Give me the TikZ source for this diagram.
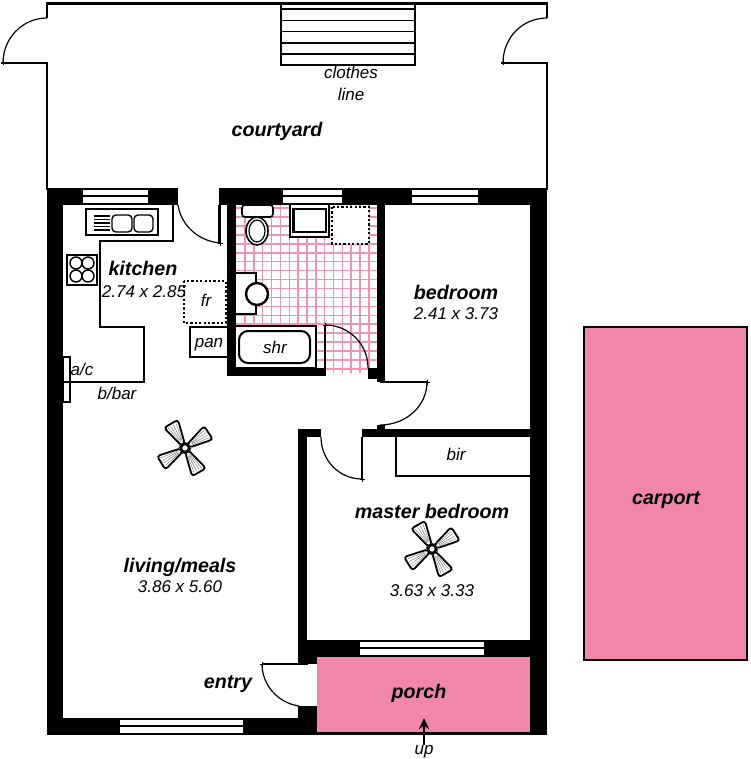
\documentclass[tikz,border=0pt]{standalone}
\usepackage{fontspec}
\setmainfont{Liberation Sans}
\usepackage{tikz}
\usetikzlibrary{arrows,arrows.meta,positioning,calc}
\definecolor{porchpink}{HTML}{F186AC}
\definecolor{tilepink}{HTML}{EE94B6}
\tikzset{
  wall/.style={fill=black,draw=none},
  thin line/.style={draw=black,line width=2.4pt},
  door/.style={draw=black,line width=1.2pt},
  dotbox/.style={draw=black,line width=2.2pt,dash pattern=on 2.2pt off 2.2pt},
  room/.style={font=\fontsize{19.7}{22}\selectfont\bfseries\itshape,inner sep=0pt},
  note/.style={font=\fontsize{17}{19}\selectfont\itshape,inner sep=0pt},
}
\newcommand{\ceilfan}[2]{
  \foreach \a in {33,120,212,300}{
    \begin{scope}[shift={(#1,#2)},rotate=\a]
      \draw[fill=white,line width=1.8pt,rounded corners=3pt] (4,-2) -- (28,-8) -- (28,8) -- (4,2) -- cycle;
      \foreach \b in {-4.5,-1.5,1.5,4.5}{
        \draw[line width=0.4pt,black!55] (8,\b*0.3) -- (26,\b);
      }
    \end{scope}
  }
  \draw[fill=white,line width=1.4pt] (#1,#2) circle (3.5);
}
\begin{document}
\begin{tikzpicture}[x=1pt,y=-1pt]
      \useasboundingbox (0,0) rectangle (750,759);

      % pink floors
      \fill[porchpink] (317,657) rectangle (530,733);
      \draw[fill=porchpink,line width=2.4pt] (584,327) rectangle (747,660);
      \begin{scope}
        \clip (236,205) rectangle (377,372);
        \foreach \i in {0,...,15}{
          \draw[tilepink,line width=1.5pt] ({245+8.85*\i},200) -- ({245+8.85*\i},380);
        }
        \foreach \i in {-3,...,16}{
          \draw[tilepink,line width=1.5pt] (230,{226+8.93*\i}) -- (385,{226+8.93*\i});
        }
      \end{scope}

      % courtyard
      \draw[thin line] (47,190) -- (47,63) -- (1,63);
      \draw[thin line] (47,18) -- (47,3.5) -- (547,3.5) -- (547,18);
      \draw[thin line] (547,190) -- (547,63) -- (501,63);
      \draw[thin line] (281,3.5) rectangle (415,65);
      \foreach \y in {9,20.5,31.5,43,54}{
        \draw[line width=1.8pt] (281,\y) -- (415,\y);
      }

      % walls
      \fill[wall] (47,188) rectangle (178,205);
      \fill[wall] (219,188) rectangle (547,205);
      \fill[wall] (47,188) rectangle (63,735);
      \fill[wall] (530,188) rectangle (547,735);
      \fill[wall] (227,205) rectangle (236,376);
      \fill[wall] (227,368) rectangle (326,376);
      \fill[wall] (377,205) rectangle (385,382);
      \fill[wall] (368,368) rectangle (380,379);
      \fill[wall] (377,425) rectangle (385,432);
      \fill[wall] (362,429) rectangle (530,437);
      \fill[wall] (298,429) rectangle (321,437);
      \fill[wall] (298,429) rectangle (307,665);
      \fill[wall] (298,640) rectangle (530,657);
      \fill[wall] (298,657) rectangle (317,664);
      \fill[wall] (298,706) rectangle (317,735);
      \fill[wall] (63,718) rectangle (317,735);
      \fill[wall] (317,732) rectangle (530,735);

      % windows
      \foreach \xa/\xb/\y in {83/148/190,283/342/190,412/478/190,360/484/642,120/243/720}{
        \fill[white] (\xa,\y) rectangle (\xb,\y+13);
        \draw[line width=2pt] (\xa,\y+6) -- (\xb,\y+6);
      }

      % kitchen
      \draw[thin line] (173,205) -- (173,241) -- (100,241) -- (100,327) -- (144,327) -- (144,382) -- (63,382);
      \draw[thin line] (86,209) rectangle (158,235);
      \foreach \y in {216,219.5,223,226.5,230}{
        \draw[line width=1.2pt] (94,\y) -- (110,\y);
      }
      \draw[line width=1.4pt,rounded corners=4pt] (112,215) rectangle (132,232);
      \draw[line width=1.4pt,rounded corners=4pt] (134,215) rectangle (153,232);
      \draw[thin line,fill=white] (67,255) rectangle (97,285);
      \foreach \x/\y in {76/263,88/263,76/276,88/276}{
        \draw[line width=1.4pt] (\x,\y) circle (6);
      }
      \draw[dotbox] (184,281) rectangle (226,323);
      \draw[thin line,fill=white] (227,327) -- (190,327) -- (190,357) -- (227,357);
      \draw[line width=1.5pt,fill=white] (63,357) rectangle (70,402);
      \draw[line width=1.5pt] (63,382) -- (70,382);

      % bathroom
      \draw[thin line] (219.5,205) -- (219.5,243);
      \draw[thin line,fill=white] (236,326) -- (316,326) -- (316,368) -- (236,368);
      \draw[thin line] (325,325) -- (325,376);
      \draw[line width=2pt,fill=white,rounded corners=9pt] (239,331) rectangle (310,363);
      \draw[line width=1.6pt,fill=white,rounded corners=3pt] (242,205) rectangle (273,217);
      \draw[line width=1.6pt,fill=white] (257,231) ellipse (11 and 14);
      \draw[line width=1.2pt] (257,231) ellipse (8 and 11);
      \draw[thin line,fill=white] (236,273) -- (256,273) -- (256,314) -- (236,314);
      \draw[thin line,fill=white] (257,294) circle (11);
      \draw[thin line,fill=white] (290,205) -- (290,237) -- (329,237) -- (329,205);
      \draw[line width=2.6pt] (293.5,209) rectangle (326,232);
      \draw[dotbox,fill=white] (332,207) rectangle (369,244);

      % bedrooms
      \draw[thin line] (380,382) -- (427,382);
      \draw[thin line] (396,437) -- (396,476) -- (530,476);
      \draw[thin line] (362,437) -- (362,479);
      \draw[thin line] (262,664) -- (308,664);

      % doors
      \draw[door] (47,18) .. controls (22.7,18) and (3,38) .. (3,63);
      \draw[door] (547,18) .. controls (522,18) and (503,38) .. (503,63);
      \draw[door] (178,205) .. controls (181,225) and (198,241) .. (220,243);
      \draw[door] (325,325) .. controls (349,325) and (368,344) .. (368,368);
      \draw[door] (427,382) .. controls (427,406) and (406,425) .. (380,425);
      \draw[door] (321,437) .. controls (321,460) and (339,479) .. (362,479);
      \draw[door] (262,664) .. controls (262,685) and (278,703) .. (299,706);
      \foreach \x/\y in {3/63,503/63,220/243,325/325,427/382,362/479,262/664}{
        \draw[line width=1pt] (\x-2.5,\y) -- (\x+2.5,\y);
        \draw[line width=1pt] (\x,\y-2.5) -- (\x,\y+2.5);
      }

      \ceilfan{185}{448}
      \ceilfan{432}{549}

      \node[note](clothes) at (351,72){clothes};
      \node[note](line) at (351,94){line};
      \node[room](courtyard) at (277,131){courtyard};
      \node[room](kitchen) at (143,268){kitchen};
      \node[note](kitchensize) at (144,292){2.74 x 2.85};
      \node[note](fr) at (206,300){fr};
      \node[note](pan) at (209,345){pan};
      \node[note](shr) at (275,347){shr};
      \node[note](ac) at (82,369){a/c};
      \node[note](bbar) at (117,393){b/bar};
      \node[room](bedroom) at (456,292){bedroom};
      \node[note](bedroomsize) at (456,314){2.41 x 3.73};
      \node[note](bir) at (456,454){bir};
      \node[room](master) at (432,511){master bedroom};
      \node[note](mastersize) at (432,591){3.63 x 3.33};
      \node[room](living) at (180,567){living/meals};
      \node[note](livingsize) at (180,587){3.86 x 5.60};
      \node[room](entry) at (228,684){entry};
      \node[room](porch) at (419,693){porch};
      \node[note](up) at (424,752){up};
      \node[room](carport) at (666,500){carport};
      \coordinate (uptip) at (424,718);
      \draw[-{Stealth[length=11pt,width=10pt]},line width=1.6pt] (up) -- (uptip);
\end{tikzpicture}
\end{document}
